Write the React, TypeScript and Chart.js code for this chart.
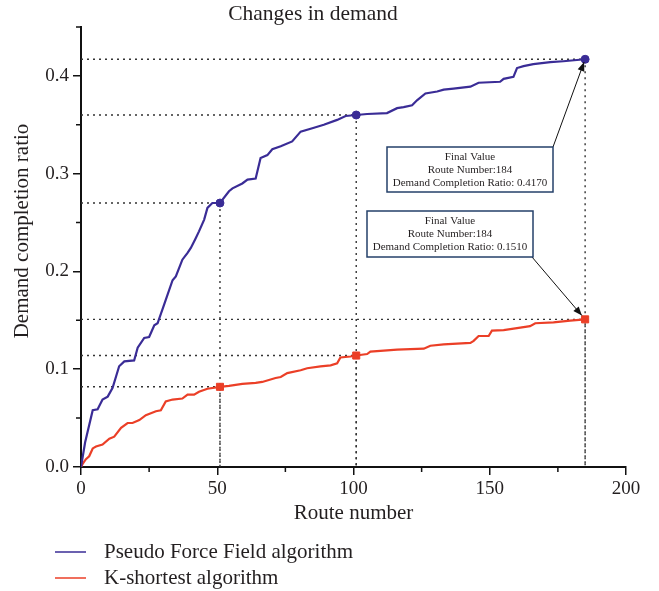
import React, { useEffect, useRef } from "react";
import { Chart, registerables } from "chart.js";

Chart.register(...registerables);

// ---- Data ----
const pffRoute = [0, 1.5, 4.3, 6.1, 7.9, 9.8, 11.6, 14, 15.9, 19.5, 20.8, 23.2, 25, 26.9, 28.1, 30.5, 33.6, 34.8, 37.2, 39.1, 40.3, 42.1, 43.3, 45.2, 46.4, 48.2, 51, 54.3, 55.6, 59.2, 61.1, 64.1, 65.9, 68.4, 70.2, 73.3, 77.5, 80.6, 85.5, 89.1, 94, 97.1, 101, 105, 112.3, 116, 118.4, 121.5, 123.3, 126.4, 130.7, 133.1, 136.7, 142.9, 145.9, 153.8, 155.1, 158.7, 160, 162.4, 166, 172.2, 177, 185];
const pffRatio = [0, 0.025, 0.058, 0.059, 0.069, 0.072, 0.081, 0.103, 0.108, 0.109, 0.122, 0.132, 0.133, 0.145, 0.147, 0.166, 0.191, 0.195, 0.212, 0.219, 0.224, 0.234, 0.241, 0.253, 0.265, 0.27, 0.27, 0.282, 0.285, 0.29, 0.294, 0.295, 0.316, 0.319, 0.325, 0.328, 0.333, 0.343, 0.347, 0.35, 0.355, 0.359, 0.36, 0.361, 0.362, 0.367, 0.368, 0.37, 0.375, 0.382, 0.384, 0.386, 0.387, 0.389, 0.393, 0.394, 0.397, 0.399, 0.408, 0.41, 0.412, 0.414, 0.415, 0.417];

const ksRoute = [0, 0.8, 1.8, 3, 4.3, 5.5, 7.9, 10.4, 12.2, 14.7, 17.1, 18.9, 21.4, 23.8, 27.5, 29.3, 31.1, 33.6, 37.2, 39.1, 41.5, 43.3, 46.4, 51, 54.3, 59.2, 64.1, 66.5, 71.4, 73.3, 75.7, 80.6, 83, 87.9, 91.6, 94, 95.2, 98.9, 101, 105, 106.2, 111.1, 116, 125.8, 128.2, 133.1, 142.9, 144.1, 145.9, 149.6, 150.8, 155.1, 160, 164.8, 166.7, 173.4, 179.5, 185];
const ksRatio = [0, 0.004, 0.008, 0.011, 0.019, 0.021, 0.023, 0.029, 0.031, 0.04, 0.045, 0.045, 0.048, 0.053, 0.057, 0.058, 0.067, 0.069, 0.07, 0.074, 0.074, 0.077, 0.08, 0.082, 0.083, 0.085, 0.086, 0.087, 0.091, 0.092, 0.096, 0.099, 0.101, 0.103, 0.104, 0.106, 0.112, 0.113, 0.114, 0.1155, 0.118, 0.119, 0.12, 0.121, 0.124, 0.1255, 0.127, 0.129, 0.134, 0.134, 0.1395, 0.14, 0.142, 0.144, 0.147, 0.148, 0.1497, 0.151];

const markRoute = [51, 101, 185];
const pffMarkRatio = [0.27, 0.36, 0.417];
const ksMarkRatio = [0.082, 0.114, 0.151];

const finalRouteNumber = 184;
const pffFinalRatio = 0.417;
const ksFinalRatio = 0.151;

const xTickLabels = [0, 50, 100, 150, 200];
const yTickLabels = ["0.0", "0.1", "0.2", "0.3", "0.4"];

const seriesNames = ["Pseudo Force Field algorithm", "K-shortest algorithm"];
const yAxisTitle = "Demand completion ratio";

// ---- Styles ----
const FONT = "'Liberation Serif', 'Times New Roman', serif";
const TEXT = "#231f20";
const BLUE = "#3a2c96";
const RED = "#eb3f27";
const NAVY = "#24406a";
const AXIS = "#111";

function toPoints(xs: number[], ys: number[]) {
  return xs.map((x, i) => ({ x, y: ys[i] }));
}

const isMajorX = (v: number) => xTickLabels.includes(Math.round(v));
const isMajorY = (v: number) => {
  const r = Math.round(v * 100);
  return r % 10 === 0 && yTickLabels.includes((r / 100).toFixed(1));
};

function drawArrow(ctx: CanvasRenderingContext2D, x1: number, y1: number, x2: number, y2: number, shorten: number) {
  const ang = Math.atan2(y2 - y1, x2 - x1);
  const tx = x2 - Math.cos(ang) * shorten;
  const ty = y2 - Math.sin(ang) * shorten;
  ctx.save();
  ctx.strokeStyle = "#111";
  ctx.fillStyle = "#111";
  ctx.lineWidth = 1;
  ctx.beginPath();
  ctx.moveTo(x1, y1);
  ctx.lineTo(tx, ty);
  ctx.stroke();
  const len = 9;
  const w = 3.5;
  const bx = tx - Math.cos(ang) * len;
  const by = ty - Math.sin(ang) * len;
  ctx.beginPath();
  ctx.moveTo(tx, ty);
  ctx.lineTo(bx + Math.sin(ang) * w, by - Math.cos(ang) * w);
  ctx.lineTo(bx - Math.sin(ang) * w, by + Math.cos(ang) * w);
  ctx.closePath();
  ctx.fill();
  ctx.restore();
}

function drawBox(ctx: CanvasRenderingContext2D, left: number, top: number, w: number, h: number, lines: string[]) {
  ctx.save();
  ctx.fillStyle = "#fff";
  ctx.fillRect(left, top, w, h);
  ctx.strokeStyle = NAVY;
  ctx.lineWidth = 1.5;
  ctx.strokeRect(left, top, w, h);
  ctx.fillStyle = TEXT;
  ctx.font = `11px ${FONT}`;
  ctx.textAlign = "center";
  ctx.textBaseline = "middle";
  lines.forEach((t, i) => ctx.fillText(t, left + w / 2, top + 10.5 + i * 13));
  ctx.restore();
}

const overlayPlugin = {
  id: "overlay",
  beforeDatasetsDraw(chart: any) {
    const { ctx, chartArea, scales } = chart;
    const x = scales.x;
    const y = scales.y;
    ctx.save();
    ctx.setLineDash([2, 4]);
    ctx.lineWidth = 1.4;
    ctx.strokeStyle = "#333";
    const marks: [number, number][] = [];
    markRoute.forEach((r, i) => {
      marks.push([r, pffMarkRatio[i]]);
      marks.push([r, ksMarkRatio[i]]);
    });
    marks.forEach(([r, v]) => {
      const px = x.getPixelForValue(r);
      const py = y.getPixelForValue(v);
      ctx.beginPath();
      ctx.moveTo(chartArea.left, py);
      ctx.lineTo(px, py);
      ctx.moveTo(px, py);
      ctx.lineTo(px, chartArea.bottom);
      ctx.stroke();
    });
    ctx.restore();

    // minor ticks (shorter)
    ctx.save();
    ctx.strokeStyle = AXIS;
    ctx.lineWidth = 1.5;
    ctx.beginPath();
    x.ticks.forEach((t: any) => {
      if (!isMajorX(t.value)) {
        const px = x.getPixelForValue(t.value);
        ctx.moveTo(px, chartArea.bottom);
        ctx.lineTo(px, chartArea.bottom + 5);
      }
    });
    y.ticks.forEach((t: any) => {
      if (!isMajorY(t.value)) {
        const py = y.getPixelForValue(t.value);
        ctx.moveTo(chartArea.left, py);
        ctx.lineTo(chartArea.left - 5, py);
      }
    });
    ctx.stroke();
    ctx.restore();

    // y axis title
    ctx.save();
    ctx.translate(22, 231);
    ctx.rotate(-Math.PI / 2);
    ctx.font = `21px ${FONT}`;
    ctx.fillStyle = TEXT;
    ctx.textAlign = "center";
    ctx.textBaseline = "middle";
    ctx.fillText(yAxisTitle, 0, 0);
    ctx.restore();
  },
  afterDraw(chart: any) {
    const { ctx, scales } = chart;
    const x = scales.x;
    const y = scales.y;
    const lastIdx = markRoute.length - 1;
    const fx = x.getPixelForValue(markRoute[lastIdx]);
    const fyBlue = y.getPixelForValue(pffMarkRatio[lastIdx]);
    const fyRed = y.getPixelForValue(ksMarkRatio[lastIdx]);

    drawArrow(ctx, 553, 147, fx, fyBlue, 3);
    drawBox(ctx, 387, 147, 166, 45, [
      "Final Value",
      `Route Number:${finalRouteNumber}`,
      `Demand Completion Ratio: ${pffFinalRatio.toFixed(4)}`,
    ]);
    drawArrow(ctx, 532, 257, fx, fyRed, 5);
    drawBox(ctx, 367, 211, 166, 46, [
      "Final Value",
      `Route Number:${finalRouteNumber}`,
      `Demand Completion Ratio: ${ksFinalRatio.toFixed(4)}`,
    ]);

    // legend
    ctx.save();
    ctx.font = `21px ${FONT}`;
    ctx.textBaseline = "middle";
    ctx.textAlign = "left";
    const colors = [BLUE, RED];
    seriesNames.forEach((name, i) => {
      const ly = 552 + i * 26;
      ctx.strokeStyle = colors[i];
      ctx.lineWidth = 1.5;
      ctx.beginPath();
      ctx.moveTo(55, ly);
      ctx.lineTo(86, ly);
      ctx.stroke();
      ctx.fillStyle = TEXT;
      ctx.fillText(name, 104, ly);
    });
    ctx.restore();
  },
};

export default function App() {
  const canvasRef = useRef<HTMLCanvasElement | null>(null);

  useEffect(() => {
    if (!canvasRef.current) return;
    const chart = new Chart(canvasRef.current, {
      type: "line",
      data: {
        datasets: [
          {
            label: seriesNames[0] + " markers",
            data: toPoints(markRoute, pffMarkRatio),
            showLine: false,
            pointStyle: "circle",
            pointRadius: 4,
            pointBackgroundColor: BLUE,
            pointBorderColor: BLUE,
            borderColor: BLUE,
            order: 0,
          },
          {
            label: seriesNames[1] + " markers",
            data: toPoints(markRoute, ksMarkRatio),
            showLine: false,
            pointStyle: "rect",
            pointRadius: 5,
            pointBackgroundColor: RED,
            pointBorderColor: RED,
            borderColor: RED,
            order: 0,
          },
          {
            label: seriesNames[0],
            data: toPoints(pffRoute, pffRatio),
            borderColor: BLUE,
            backgroundColor: BLUE,
            borderWidth: 2.2,
            pointRadius: 0,
            tension: 0,
            order: 1,
          },
          {
            label: seriesNames[1],
            data: toPoints(ksRoute, ksRatio),
            borderColor: RED,
            backgroundColor: RED,
            borderWidth: 2.2,
            pointRadius: 0,
            tension: 0,
            order: 1,
          },
        ],
      },
      options: {
        responsive: false,
        animation: false,
        layout: { padding: { left: 0, right: 33, top: 0, bottom: 64 } },
        plugins: {
          legend: { display: false },
          tooltip: { enabled: false },
          title: {
            display: true,
            text: "Changes in demand",
            color: TEXT,
            font: { family: FONT, size: 21.5, weight: "normal", lineHeight: 1 },
            padding: { top: 4, bottom: 1.5 },
          },
        },
        scales: {
          x: {
            type: "linear",
            min: 0,
            max: 200,
            ticks: {
              stepSize: 25,
              autoSkip: false,
              maxRotation: 0,
              padding: 3,
              color: TEXT,
              font: { family: FONT, size: 19 },
              callback: (v: any) => (isMajorX(Number(v)) ? String(v) : ""),
            },
            grid: {
              display: true,
              drawOnChartArea: false,
              drawTicks: true,
              tickLength: 8,
              color: AXIS,
              lineWidth: 1.5,
              tickColor: (c: any) => (c.tick && isMajorX(c.tick.value) ? AXIS : "rgba(0,0,0,0)"),
            },
            border: { display: true, color: AXIS, width: 2 },
            title: {
              display: true,
              text: "Route number",
              color: TEXT,
              font: { family: FONT, size: 21 },
              padding: { top: 0, bottom: 1 },
            },
            afterFit: (s: any) => {
              s.height = 60;
            },
          },
          y: {
            type: "linear",
            min: 0,
            max: 0.45,
            ticks: {
              stepSize: 0.05,
              autoSkip: false,
              padding: 4,
              color: TEXT,
              font: { family: FONT, size: 19 },
              callback: (v: any) => (isMajorY(Number(v)) ? (Math.round(Number(v) * 10) / 10).toFixed(1) : ""),
            },
            grid: {
              display: true,
              drawOnChartArea: false,
              drawTicks: true,
              tickLength: 8,
              color: AXIS,
              lineWidth: 1.5,
              tickColor: (c: any) => (c.tick && isMajorY(c.tick.value) ? AXIS : "rgba(0,0,0,0)"),
            },
            border: { display: true, color: AXIS, width: 2 },
            title: { display: false },
            afterFit: (s: any) => {
              s.width = 81;
            },
          },
        },
      },
      plugins: [overlayPlugin],
    } as any);
    return () => chart.destroy();
  }, []);

  return (
    <div style={{ position: "absolute", left: 0, top: 0, width: 659, height: 591 }}>
      <canvas ref={canvasRef} width={659} height={591} style={{ display: "block" }} />
    </div>
  );
}
